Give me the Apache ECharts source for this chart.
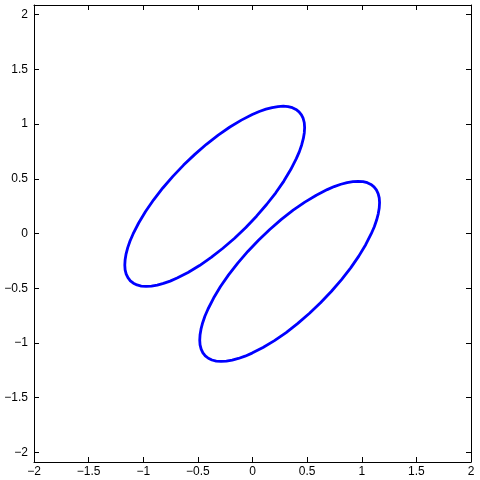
<!DOCTYPE html>
<html>
<head>
<meta charset="utf-8">
<script src="https://cdn.jsdelivr.net/npm/echarts@6/dist/echarts.min.js"></script>
<style>html,body{margin:0;padding:0;background:#fff}#c{width:480px;height:480px}</style>
</head>
<body>
<div id="c"></div>
<script>
var xTicks = [-2, -1.5, -1, -0.5, 0, 0.5, 1, 1.5, 2];
var yTicks = [-2, -1.5, -1, -0.5, 0, 0.5, 1, 1.5, 2];

var ellipse1X = [-0.061, -0.164, -0.271, -0.378, -0.485, -0.590, -0.690, -0.754, -0.815, -0.872, -0.925, -0.974, -1.018, -1.057, -1.090, -1.118, -1.140, -1.156, -1.166, -1.169, -1.166, -1.157, -1.142, -1.121, -1.093, -1.042, -0.979, -0.905, -0.821, -0.729, -0.631, -0.528, -0.422, -0.314, -0.207, -0.102, -0.002, 0.062, 0.123, 0.180, 0.233, 0.282, 0.326, 0.365, 0.398, 0.426, 0.448, 0.464, 0.474, 0.477, 0.474, 0.465, 0.450, 0.429, 0.401, 0.350, 0.287, 0.213, 0.129, 0.037, -0.061];
var ellipse1Y = [0.055, -0.043, -0.135, -0.219, -0.293, -0.356, -0.407, -0.435, -0.456, -0.471, -0.480, -0.483, -0.480, -0.470, -0.454, -0.432, -0.404, -0.371, -0.332, -0.288, -0.239, -0.186, -0.129, -0.068, -0.004, 0.096, 0.201, 0.308, 0.416, 0.522, 0.625, 0.723, 0.815, 0.899, 0.973, 1.036, 1.087, 1.115, 1.136, 1.151, 1.160, 1.163, 1.160, 1.150, 1.134, 1.112, 1.084, 1.051, 1.012, 0.968, 0.919, 0.866, 0.809, 0.748, 0.684, 0.584, 0.479, 0.372, 0.265, 0.158, 0.055];

var ellipse2X = [0.625, 0.522, 0.415, 0.308, 0.201, 0.096, -0.004, -0.068, -0.129, -0.186, -0.239, -0.288, -0.332, -0.371, -0.404, -0.432, -0.454, -0.470, -0.480, -0.483, -0.480, -0.471, -0.456, -0.435, -0.407, -0.356, -0.293, -0.219, -0.135, -0.043, 0.055, 0.158, 0.264, 0.372, 0.479, 0.584, 0.684, 0.748, 0.809, 0.866, 0.919, 0.968, 1.012, 1.051, 1.084, 1.112, 1.134, 1.150, 1.160, 1.163, 1.160, 1.151, 1.136, 1.115, 1.087, 1.036, 0.973, 0.899, 0.815, 0.723, 0.625];
var ellipse2Y = [-0.631, -0.729, -0.821, -0.905, -0.979, -1.042, -1.093, -1.121, -1.142, -1.157, -1.166, -1.169, -1.166, -1.156, -1.140, -1.118, -1.090, -1.057, -1.018, -0.974, -0.925, -0.872, -0.815, -0.754, -0.690, -0.590, -0.485, -0.378, -0.270, -0.164, -0.061, 0.037, 0.129, 0.213, 0.287, 0.350, 0.401, 0.429, 0.450, 0.465, 0.474, 0.477, 0.474, 0.464, 0.448, 0.426, 0.398, 0.365, 0.326, 0.282, 0.233, 0.180, 0.123, 0.062, -0.002, -0.102, -0.207, -0.314, -0.421, -0.528, -0.631];

function pairs(xs, ys) { return xs.map(function (x, i) { return [x, ys[i]]; }); }
function fmt(v) { return String(v).replace('-', '\u2212'); }

var axisCommon = {
  type: 'value',
  axisLine: { show: true, onZero: false, lineStyle: { color: '#000', width: 1 } },
  splitLine: { show: false }
};
var FONT = { fontFamily: 'Liberation Sans, Arial, sans-serif', fontSize: 12, color: '#000' };

var chart = echarts.init(document.getElementById('c'), null, { renderer: 'canvas' });
chart.setOption({
  animation: false,
  backgroundColor: '#fff',
  grid: { left: 34, right: 9, top: 5, bottom: 18, containLabel: false },
  xAxis: [
    Object.assign({}, axisCommon, {
      position: 'bottom', min: -2, max: 2,
      axisTick: { show: true, inside: true, length: 5, customValues: xTicks, lineStyle: { color: '#000' } },
      axisLabel: Object.assign({ show: true, margin: 4, customValues: xTicks, formatter: fmt }, FONT)
    }),
    Object.assign({}, axisCommon, {
      position: 'top', min: -2, max: 2,
      axisTick: { show: true, inside: true, length: 5, customValues: xTicks, lineStyle: { color: '#000' } },
      axisLabel: { show: false }
    })
  ],
  yAxis: [
    Object.assign({}, axisCommon, {
      position: 'left', min: -2.088, max: 2.088,
      axisTick: { show: true, inside: true, length: 5, customValues: yTicks, lineStyle: { color: '#000' } },
      axisLabel: Object.assign({ show: true, margin: 6, customValues: yTicks, formatter: fmt }, FONT)
    }),
    Object.assign({}, axisCommon, {
      position: 'right', min: -2.088, max: 2.088,
      axisTick: { show: true, inside: true, length: 5, customValues: yTicks, lineStyle: { color: '#000' } },
      axisLabel: { show: false }
    })
  ],
  series: [
    { type: 'line', xAxisIndex: 0, yAxisIndex: 0, data: pairs(ellipse1X, ellipse1Y), showSymbol: false, smooth: false,
      lineStyle: { color: '#0000ff', width: 2.8, join: 'round', cap: 'round' } },
    { type: 'line', xAxisIndex: 0, yAxisIndex: 0, data: pairs(ellipse2X, ellipse2Y), showSymbol: false, smooth: false,
      lineStyle: { color: '#0000ff', width: 2.8, join: 'round', cap: 'round' } }
  ]
});
</script>
</body>
</html>
